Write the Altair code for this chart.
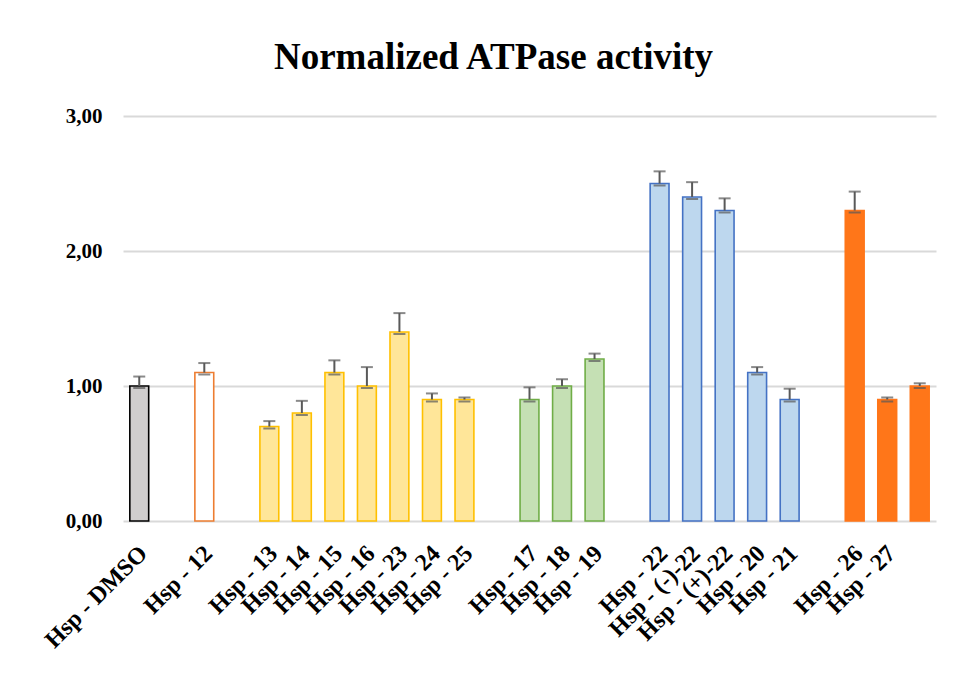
import altair as alt
import pandas as pd

# x slots (gap slots keep the groups apart, as in the original)
slots = ["Hsp - DMSO", "gap1", "Hsp - 12", "gap2",
         "Hsp - 13", "Hsp - 14", "Hsp - 15", "Hsp - 16", "Hsp - 23", "Hsp - 24", "Hsp - 25", "gap3",
         "Hsp - 17", "Hsp - 18", "Hsp - 19", "gap4",
         "Hsp - 22", "Hsp - (-)-22", "Hsp - (+)-22", "Hsp - 20", "Hsp - 21", "gap5",
         "Hsp - 26", "Hsp - 27", "nolabel"]

names = ["Hsp - DMSO", "Hsp - 12",
         "Hsp - 13", "Hsp - 14", "Hsp - 15", "Hsp - 16", "Hsp - 23", "Hsp - 24", "Hsp - 25",
         "Hsp - 17", "Hsp - 18", "Hsp - 19",
         "Hsp - 22", "Hsp - (-)-22", "Hsp - (+)-22", "Hsp - 20", "Hsp - 21",
         "Hsp - 26", "Hsp - 27", "nolabel"]
values = [1.00, 1.10,
          0.70, 0.80, 1.10, 1.00, 1.40, 0.90, 0.90,
          0.90, 1.00, 1.20,
          2.50, 2.40, 2.30, 1.10, 0.90,
          2.30, 0.90, 1.00]
errors = [0.07, 0.07,
          0.04, 0.09, 0.09, 0.14, 0.14, 0.045, 0.015,
          0.09, 0.05, 0.04,
          0.09, 0.11, 0.09, 0.04, 0.08,
          0.14, 0.015, 0.02]
groups = ["dmso", "ref",
          "yellow", "yellow", "yellow", "yellow", "yellow", "yellow", "yellow",
          "green", "green", "green",
          "blue", "blue", "blue", "blue", "blue",
          "orange", "orange", "orange"]

group_names = ["dmso", "ref", "yellow", "green", "blue", "orange"]
fills = ["#D0CECE", "#FFFFFF", "#FFE699", "#C5E0B4", "#BDD7EE", "#FF7619"]
strokes = ["#000000", "#ED7D31", "#FFC000", "#70AD47", "#4472C4", "#FF7619"]

df = pd.DataFrame({"name": names, "value": values, "err": errors, "group": groups})
df["top"] = df["value"] + df["err"]

FONT = "Liberation Serif"

xenc = alt.X("name:N",
             scale=alt.Scale(domain=slots, paddingInner=0.42, paddingOuter=0.21),
             sort=slots, title=None,
             axis=alt.Axis(labelAngle=-45, labelAlign="right", labelBaseline="top",
                           labelPadding=20, labelOffset=-4, ticks=False, tickSize=0,
                           domain=False, grid=False,
                           labelExpr="indexof(datum.value, 'Hsp') === 0 ? datum.value : ''",
                           labelFont=FONT, labelFontSize=24, labelFontWeight="bold",
                           labelColor="black", labelLimit=400, labelOverlap=False))

yscale = alt.Scale(domain=[0, 3], nice=False)

bars = alt.Chart(df).mark_bar(strokeWidth=1.6).encode(
    x=xenc,
    y=alt.Y("value:Q", scale=yscale, title=None,
            axis=alt.Axis(values=[0, 1, 2, 3],
                          labelExpr="replace(format(datum.value, '.2f'), '.', ',')",
                          grid=True, gridColor="#D9D9D9", gridWidth=2,
                          domain=False, ticks=False, labelPadding=21,
                          labelFont=FONT, labelFontSize=21, labelFontWeight="bold",
                          labelColor="black")),
    fill=alt.Fill("group:N", scale=alt.Scale(domain=group_names, range=fills), legend=None),
    stroke=alt.Stroke("group:N", scale=alt.Scale(domain=group_names, range=strokes), legend=None),
)

rules = alt.Chart(df).mark_rule(color="#595959", strokeWidth=2).encode(
    x=xenc, y=alt.Y("value:Q", scale=yscale, title=None), y2="top:Q")

top_caps = alt.Chart(df).mark_tick(color="#595959", thickness=2, size=12).encode(
    x=xenc, y=alt.Y("top:Q", scale=yscale, title=None))

bot_caps = alt.Chart(df).mark_tick(color="#595959", thickness=2, size=12, yOffset=2).encode(
    x=xenc, y=alt.Y("value:Q", scale=yscale, title=None))

chart = alt.layer(bars, rules, top_caps, bot_caps).properties(
    width=813, height=405,
    background="white",
    autosize=alt.AutoSizeParams(type="none"),
    padding={"left": 115, "top": 108, "right": 20, "bottom": 150},
    title=alt.TitleParams("Normalized ATPase activity", font=FONT, fontSize=37,
                          fontWeight="bold", color="black", anchor="middle",
                          frame="group", offset=28, dx=-36),
).configure_view(stroke=None)

chart.save("out.html", embed_options={"renderer": "svg", "actions": False})
